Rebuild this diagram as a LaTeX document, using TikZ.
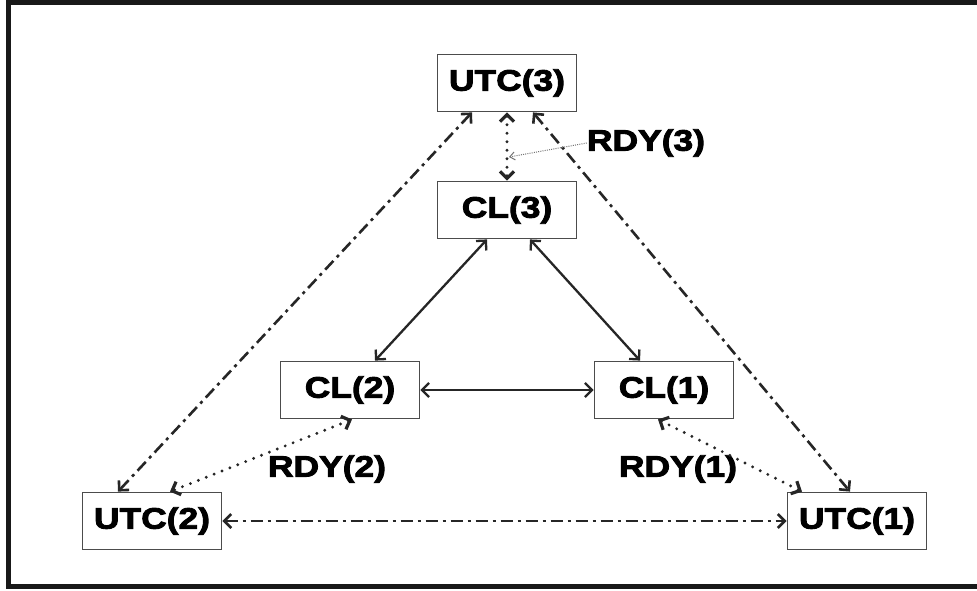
\documentclass[tikz,border=0pt]{standalone}
\usepackage{fontspec}
\setmainfont{Liberation Sans}[FakeStretch=1.2,BoldFont={Liberation Sans Bold},BoldFeatures={FakeBold=3,FakeStretch=1.2}]
\usetikzlibrary{arrows.meta}
\begin{document}
\begin{tikzpicture}[x=1pt,y=-1pt,
    box/.style={draw=black!70,line width=1.8pt,fill=white,minimum width=139pt,minimum height=57pt,
        inner sep=0pt,font=\fontsize{29.5}{32}\selectfont\bfseries},
    lbl/.style={inner sep=0pt,font=\fontsize{29.5}{32}\selectfont\bfseries},
    tip/.style={{Straight Barb[length=7pt,width=14pt]}-{Straight Barb[length=7pt,width=14pt]}},
    solidlink/.style={tip,line width=2.3pt,black!85},
    dashdot/.style={tip,line width=2.6pt,black!85,dash pattern=on 12pt off 5pt on 3pt off 5pt},
    dots/.style={tip,line width=3.2pt,black!85,line cap=round,dash pattern=on 0pt off 8.5pt},
    pointer/.style={-{Straight Barb[length=5pt,width=8pt]},line width=1pt,black!55,dash pattern=on 1pt off 1.2pt}]
\useasboundingbox (0,0) rectangle (977,590);
\fill[white] (0,0) rectangle (977,590);
% frame
\draw[line width=5pt,black!90] (990,2.5) -- (8.5,2.5) -- (8.5,586) -- (990,586);

% boxes
\node[box] (u3) at (507,83) {UTC(3)};
\node[box] (c3) at (507,210) {CL(3)};
\node[box] (c2) at (350,390) {CL(2)};
\node[box] (c1) at (664,390) {CL(1)};
\node[box] (u2) at (152,521) {UTC(2)};
\node[box] (u1) at (857,521) {UTC(1)};

% labels
\node[lbl] (rdy3) at (646,143) {RDY(3)};
\node[lbl] (rdy2) at (327,469) {RDY(2)};
\node[lbl] (rdy1) at (678,469) {RDY(1)};
\coordinate (m3) at (509,157);

% links
\draw[solidlink] ([xshift=-20pt]c3.south) -- ([xshift=25pt]c2.north);
\draw[solidlink] ([xshift=23pt]c3.south) -- ([xshift=-24pt]c1.north);
\draw[solidlink] (c2.east) -- (c1.west);
\draw[dashdot] ([xshift=-35pt]u3.south) -- ([xshift=-34pt]u2.north);
\draw[dashdot] ([xshift=26pt]u3.south) -- ([xshift=-7pt]u1.north);
\draw[dashdot] (u2.east) -- (u1.west);
\draw[dots] (u3.south) -- (c3.north);
\draw[dots] ([xshift=2pt]c2.south) -- ([xshift=18pt]u2.north);
\draw[dots] ([xshift=-6pt]c1.south) -- ([xshift=-55pt]u1.north);
\draw[pointer] (rdy3.west) -- (m3);
\end{tikzpicture}
\end{document}
